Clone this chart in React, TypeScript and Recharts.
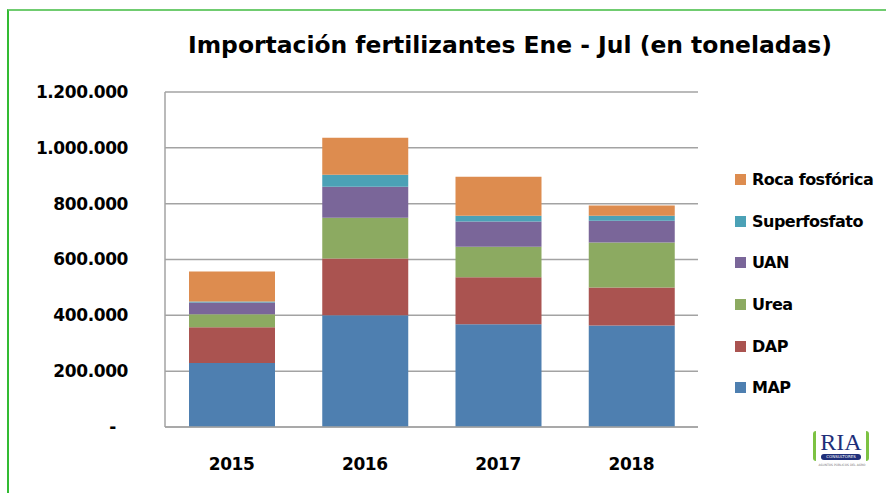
import React from 'react';
import { BarChart, Bar, XAxis, YAxis, CartesianGrid, Legend } from 'recharts';

// Importación de fertilizantes, enero a julio, toneladas
const years = ['2015', '2016', '2017', '2018'];
const mapValues = [229000, 400000, 368000, 364000];
const dapValues = [128000, 204000, 168000, 136000];
const ureaValues = [47000, 146000, 110000, 161000];
const uanValues = [42000, 111000, 90000, 78000];
const superfosfatoValues = [4000, 43000, 21000, 18000];
const rocaValues = [107000, 132000, 139000, 36000];
const yTicks = [0, 200000, 400000, 600000, 800000, 1000000, 1200000];

const series = [
  { key: 'MAP', color: '#4e7fb0' },
  { key: 'DAP', color: '#aa5350' },
  { key: 'Urea', color: '#8caa61' },
  { key: 'UAN', color: '#7a6699' },
  { key: 'Superfosfato', color: '#4ba1b6' },
  { key: 'Roca fosfórica', color: '#dd8c4f' },
];
const seriesOrder = series.map((s) => s.key);

const data = years.map((year, i) => ({
  year,
  MAP: mapValues[i],
  DAP: dapValues[i],
  Urea: ureaValues[i],
  UAN: uanValues[i],
  Superfosfato: superfosfatoValues[i],
  'Roca fosfórica': rocaValues[i],
}));

const FONT = '"DejaVu Sans", sans-serif';

const formatMiles = (v: number) =>
  String(v).replace(/\B(?=(\d{3})+(?!\d))/g, '.');

const YTick = (props: any) => {
  const { x, y, payload } = props;
  const isZero = payload.value === 0;
  return (
    <text
      x={isZero ? x - 12 : x}
      y={y}
      dy="0.35em"
      textAnchor="end"
      fontFamily={FONT}
      fontWeight="bold"
      fontSize={17}
      letterSpacing={-0.4}
      fill="#000"
    >
      {isZero ? '-' : formatMiles(payload.value)}
    </text>
  );
};

// legend listed top-down in reverse stacking order, like the original
const LegendList = (props: any) => {
  const items = [...(props.payload || [])].sort(
    (a: any, b: any) => seriesOrder.indexOf(b.value) - seriesOrder.indexOf(a.value)
  );
  return (
    <div style={{ fontFamily: FONT, fontWeight: 'bold', fontSize: 16 }}>
      {items.map((item: any) => (
        <div
          key={item.value}
          style={{ display: 'flex', alignItems: 'center', height: 41.6 }}
        >
          <span
            style={{
              width: 11,
              height: 11,
              background: item.color,
              marginRight: 6,
              display: 'inline-block',
            }}
          />
          <span style={{ letterSpacing: -0.5 }}>{item.value}</span>
        </div>
      ))}
    </div>
  );
};

const App = () => {
  return (
    <div
      style={{
        position: 'fixed',
        left: 0,
        top: 0,
        width: 886,
        height: 493,
        background: '#fff',
        overflow: 'hidden',
      }}
    >
      {/* green frame */}
      <div
        style={{
          position: 'absolute',
          left: 7,
          top: 9,
          width: 900,
          height: 500,
          borderLeft: '2px solid #33bb33',
          borderTop: '2px solid #70cc70',
        }}
      />

      <svg
        width={886}
        height={70}
        style={{ position: 'absolute', left: 0, top: 0 }}
      >
        <text
          x={510}
          y={53}
          textAnchor="middle"
          fontFamily={FONT}
          fontWeight="bold"
          fontSize={23}
          textLength={644}
          lengthAdjust="spacingAndGlyphs"
          fill="#000"
        >
          Importación fertilizantes Ene - Jul (en toneladas)
        </text>
      </svg>

      <div style={{ position: 'absolute', left: 0, top: 0 }}>
        <BarChart
          width={886}
          height={493}
          data={data}
          margin={{ top: 92, right: 188, bottom: 0, left: 0 }}
          barSize={86}
        >
          <CartesianGrid
            vertical={false}
            stroke="#a3a3a3"
            strokeWidth={1.5}
          />
          <XAxis
            dataKey="year"
            height={66}
            axisLine={{ stroke: '#a3a3a3', strokeWidth: 1.5 }}
            tickLine={false}
            tickSize={0}
            tickMargin={31}
            tick={{
              fontFamily: FONT,
              fontWeight: 'bold',
              fontSize: 17,
              fill: '#000',
              letterSpacing: -0.4,
            }}
          />
          <YAxis
            width={165}
            domain={[0, 1200000]}
            ticks={yTicks}
            interval={0}
            axisLine={{ stroke: '#a3a3a3', strokeWidth: 1.5 }}
            tickLine={false}
            tickSize={0}
            tickMargin={37}
            tick={<YTick />}
          />
          <Legend
            layout="vertical"
            align="center"
            verticalAlign="middle"
            wrapperStyle={{ left: 735, top: 159, width: 150 }}
            content={<LegendList />}
          />
          {series.map((s) => (
            <Bar
              key={s.key}
              dataKey={s.key}
              stackId="total"
              fill={s.color}
              isAnimationActive={false}
            />
          ))}
        </BarChart>
      </div>

      {/* logo */}
      <div
        style={{
          position: 'absolute',
          left: 813,
          top: 431,
          width: 56,
          height: 30,
          borderLeft: '3px solid #7cc242',
          borderRight: '3px solid #7cc242',
          borderRadius: 3,
          boxSizing: 'border-box',
          textAlign: 'center',
        }}
      >
        <div
          style={{
            fontFamily: '"Liberation Serif", serif',
            fontSize: 24,
            lineHeight: '22px',
            color: '#1f2f7a',
          }}
        >
          RIA
        </div>
        <div
          style={{
            margin: '1px auto 0',
            width: 40,
            height: 6,
            background: '#1f2f7a',
            color: '#fff',
            fontFamily: FONT,
            fontSize: 4,
            lineHeight: '6px',
            borderRadius: 3,
          }}
        >
          CONSULTORES
        </div>
      </div>
      <div
        style={{
          position: 'absolute',
          left: 812,
          top: 463,
          width: 60,
          textAlign: 'center',
          fontFamily: FONT,
          fontSize: 3,
          color: '#777',
        }}
      >
        ASUNTOS PÚBLICOS DEL AGRO
      </div>
    </div>
  );
};

export default App;
